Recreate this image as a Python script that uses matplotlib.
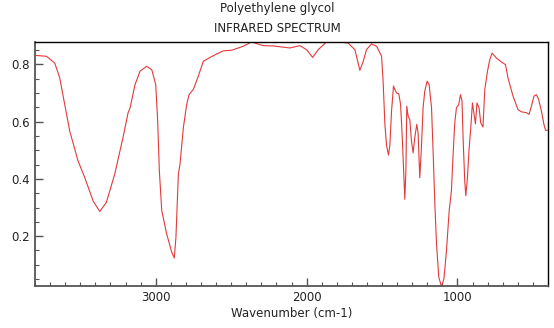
import matplotlib
matplotlib.use("Agg")
import matplotlib.pyplot as plt
import numpy as np
from matplotlib.ticker import MultipleLocator

# IR spectrum of polyethylene glycol (wavenumber in cm-1, absorbance)
wavenumber = [3800, 3724, 3669, 3636, 3603, 3570, 3515, 3470, 3415, 3371,
              3327, 3272, 3217, 3183, 3170, 3137, 3104, 3060, 3026, 3000,
              2987, 2976, 2960, 2927, 2894, 2877, 2866, 2850, 2839, 2817,
              2795, 2779, 2751, 2718, 2685, 2640, 2596, 2552, 2497, 2420,
              2364, 2287, 2221, 2111, 2044, 2000, 1960, 1923, 1868, 1801,
              1725, 1680, 1647, 1625, 1603, 1570, 1536, 1503, 1493, 1481,
              1470, 1457, 1448, 1437, 1424, 1415, 1404, 1389, 1377, 1366,
              1357, 1349, 1342, 1336, 1327, 1316, 1305, 1294, 1283, 1270,
              1261, 1250, 1239, 1228, 1217, 1201, 1188, 1172, 1161, 1150,
              1139, 1124, 1106, 1090, 1073, 1055, 1040, 1029, 1018, 1007,
              992, 980, 970, 963, 952, 945, 934, 924, 912, 901,
              890, 881, 871, 857, 846, 831, 819, 801, 786, 771,
              742, 709, 682, 665, 632, 599, 576, 543, 526, 510,
              493, 477, 462, 444, 427, 416, 405]
absorbance = [0.831, 0.828, 0.804, 0.752, 0.659, 0.567, 0.463, 0.404, 0.323, 0.286,
              0.318, 0.416, 0.544, 0.631, 0.648, 0.729, 0.776, 0.793, 0.781, 0.729,
              0.602, 0.428, 0.289, 0.207, 0.144, 0.124, 0.196, 0.416, 0.451, 0.578,
              0.659, 0.694, 0.712, 0.758, 0.810, 0.824, 0.836, 0.847, 0.849, 0.863,
              0.878, 0.865, 0.864, 0.857, 0.865, 0.851, 0.824, 0.851, 0.878, 0.880,
              0.874, 0.851, 0.779, 0.810, 0.851, 0.871, 0.863, 0.828, 0.741, 0.590,
              0.515, 0.483, 0.520, 0.637, 0.724, 0.712, 0.700, 0.697, 0.659, 0.544,
              0.428, 0.329, 0.428, 0.654, 0.619, 0.607, 0.532, 0.491, 0.544, 0.590,
              0.561, 0.404, 0.509, 0.648, 0.706, 0.741, 0.729, 0.648, 0.486, 0.312,
              0.173, 0.057, 0.024, 0.051, 0.150, 0.289, 0.360, 0.486, 0.596, 0.648,
              0.659, 0.694, 0.671, 0.544, 0.393, 0.341, 0.404, 0.497, 0.578, 0.665,
              0.625, 0.592, 0.665, 0.648, 0.596, 0.581, 0.712, 0.776, 0.816, 0.839,
              0.822, 0.808, 0.799, 0.752, 0.689, 0.642, 0.634, 0.631, 0.625, 0.654,
              0.689, 0.694, 0.677, 0.637, 0.590, 0.569, 0.570]

fig = plt.figure(figsize=(5.54, 3.28), dpi=100)
ax = fig.add_axes([0.0632, 0.128, 0.926, 0.745])

ax.plot(wavenumber, absorbance, color='#e23a3a', lw=0.8)

ax.set_xlim(3800, 400)
ax.set_ylim(0.026, 0.879)

ax.xaxis.set_major_locator(MultipleLocator(1000))
ax.xaxis.set_minor_locator(MultipleLocator(100))
ax.yaxis.set_major_locator(MultipleLocator(0.2))
ax.yaxis.set_minor_locator(MultipleLocator(0.05))
ax.tick_params(which='both', direction='in', top=False, right=False,
               labelsize=8.5, color='#555555', labelcolor='#222222')
ax.tick_params(which='major', length=6, width=1)
ax.tick_params(which='minor', length=3, width=0.8)

for side in ['left', 'bottom']:
    ax.spines[side].set_color('#555555')
    ax.spines[side].set_linewidth(1.3)
for side in ['top', 'right']:
    ax.spines[side].set_color('black')
    ax.spines[side].set_linewidth(1.0)

ax.set_xlabel('Wavenumber (cm-1)', fontsize=8.5, labelpad=2, color='#222222')

fig.text(0.5, 0.974, 'Polyethylene glycol', ha='center', va='center',
         fontsize=8.5, color='#222222')
fig.text(0.5, 0.912, 'INFRARED SPECTRUM', ha='center', va='center',
         fontsize=8.5, color='#222222')

fig.savefig('out.png', dpi=100)
plt.close(fig)
